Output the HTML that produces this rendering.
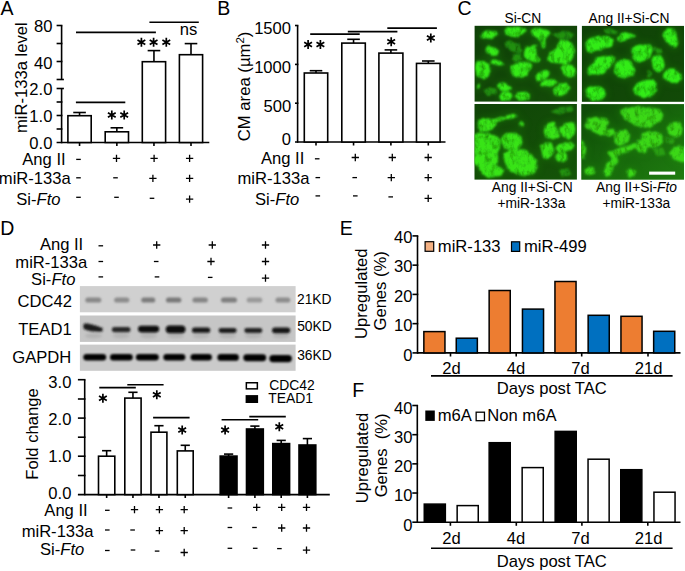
<!DOCTYPE html>
<html><head><meta charset="utf-8"><title>Figure</title>
<style>html,body{margin:0;padding:0;background:#fff;width:685px;height:571px;overflow:hidden}
svg{display:block} text{font-family:"Liberation Sans", sans-serif}</style></head>
<body><svg width="685" height="571" viewBox="0 0 685 571" font-family="'Liberation Sans', sans-serif" fill="#000"><defs><filter id="glow" x="-50%" y="-50%" width="200%" height="200%"><feGaussianBlur stdDeviation="3.5"/></filter><filter id="cell0" x="469.6" y="20.8" width="112.5" height="85.8" filterUnits="userSpaceOnUse">
<feTurbulence type="fractalNoise" baseFrequency="0.12" numOctaves="2" seed="1" result="n1"/>
<feDisplacementMap in="SourceGraphic" in2="n1" scale="3.5" xChannelSelector="R" yChannelSelector="G" result="d"/>
<feGaussianBlur in="d" stdDeviation="1.0" result="b"/>
<feTurbulence type="fractalNoise" baseFrequency="0.2 0.14" numOctaves="3" seed="3" result="n2"/>
<feColorMatrix in="n2" type="matrix" values="1.3 0 0 0 0.24  1.3 0 0 0 0.24  1.3 0 0 0 0.24  0 0 0 0 1" result="n3"/>
<feComposite in="b" in2="n3" operator="arithmetic" k1="1" k2="0" k3="0" k4="0"/>
</filter><clipPath id="cp0"><rect x="474.6" y="25.8" width="102.50" height="75.80"/></clipPath><linearGradient id="bg0" x1="0" y1="0" x2="1" y2="1"><stop offset="0" stop-color="#0f3f08"/><stop offset="1" stop-color="#144c08"/></linearGradient><filter id="cell1" x="576.9" y="20.9" width="112.10000000000002" height="85.9" filterUnits="userSpaceOnUse">
<feTurbulence type="fractalNoise" baseFrequency="0.12" numOctaves="2" seed="8" result="n1"/>
<feDisplacementMap in="SourceGraphic" in2="n1" scale="3.5" xChannelSelector="R" yChannelSelector="G" result="d"/>
<feGaussianBlur in="d" stdDeviation="1.0" result="b"/>
<feTurbulence type="fractalNoise" baseFrequency="0.2 0.14" numOctaves="3" seed="8" result="n2"/>
<feColorMatrix in="n2" type="matrix" values="1.3 0 0 0 0.24  1.3 0 0 0 0.24  1.3 0 0 0 0.24  0 0 0 0 1" result="n3"/>
<feComposite in="b" in2="n3" operator="arithmetic" k1="1" k2="0" k3="0" k4="0"/>
</filter><clipPath id="cp1"><rect x="581.9" y="25.9" width="102.10" height="75.90"/></clipPath><linearGradient id="bg1" x1="0" y1="0" x2="1" y2="1"><stop offset="0" stop-color="#0f4207"/><stop offset="1" stop-color="#124a07"/></linearGradient><filter id="cell2" x="469.5" y="99.0" width="112.39999999999998" height="85.6" filterUnits="userSpaceOnUse">
<feTurbulence type="fractalNoise" baseFrequency="0.12" numOctaves="2" seed="15" result="n1"/>
<feDisplacementMap in="SourceGraphic" in2="n1" scale="3.5" xChannelSelector="R" yChannelSelector="G" result="d"/>
<feGaussianBlur in="d" stdDeviation="1.0" result="b"/>
<feTurbulence type="fractalNoise" baseFrequency="0.2 0.14" numOctaves="3" seed="13" result="n2"/>
<feColorMatrix in="n2" type="matrix" values="1.3 0 0 0 0.24  1.3 0 0 0 0.24  1.3 0 0 0 0.24  0 0 0 0 1" result="n3"/>
<feComposite in="b" in2="n3" operator="arithmetic" k1="1" k2="0" k3="0" k4="0"/>
</filter><clipPath id="cp2"><rect x="474.5" y="104.0" width="102.40" height="75.60"/></clipPath><linearGradient id="bg2" x1="0" y1="0" x2="1" y2="1"><stop offset="0" stop-color="#104407"/><stop offset="1" stop-color="#155408"/></linearGradient><filter id="cell3" x="576.3" y="99.1" width="112.70000000000005" height="85.6" filterUnits="userSpaceOnUse">
<feTurbulence type="fractalNoise" baseFrequency="0.12" numOctaves="2" seed="22" result="n1"/>
<feDisplacementMap in="SourceGraphic" in2="n1" scale="3.5" xChannelSelector="R" yChannelSelector="G" result="d"/>
<feGaussianBlur in="d" stdDeviation="1.0" result="b"/>
<feTurbulence type="fractalNoise" baseFrequency="0.2 0.14" numOctaves="3" seed="18" result="n2"/>
<feColorMatrix in="n2" type="matrix" values="1.3 0 0 0 0.24  1.3 0 0 0 0.24  1.3 0 0 0 0.24  0 0 0 0 1" result="n3"/>
<feComposite in="b" in2="n3" operator="arithmetic" k1="1" k2="0" k3="0" k4="0"/>
</filter><clipPath id="cp3"><rect x="581.3" y="104.1" width="102.70" height="75.60"/></clipPath><linearGradient id="bg3" x1="0" y1="0" x2="1" y2="1"><stop offset="0" stop-color="#0f4807"/><stop offset="0.6" stop-color="#186a0c"/><stop offset="1" stop-color="#1f7c10"/></linearGradient><filter id="bl2" x="-30%" y="-30%" width="160%" height="160%"><feGaussianBlur stdDeviation="0.9"/></filter><filter id="bl4" x="-30%" y="-50%" width="160%" height="200%"><feGaussianBlur stdDeviation="1.15"/></filter><filter id="bl5" x="-30%" y="-80%" width="160%" height="260%"><feGaussianBlur stdDeviation="1.6"/></filter></defs><rect width="685" height="571" fill="#fff"/><text x="0.42" y="14.50" font-size="19.5">A</text>
<text x="217.27" y="14.50" font-size="19.5">B</text>
<text x="457.38" y="14.90" font-size="19.5">C</text>
<text x="0.36" y="235.10" font-size="19.5">D</text>
<text x="339.63" y="235.10" font-size="19.5">E</text>
<text x="352.36" y="396.90" font-size="19.5">F</text>
<line x1="61.60" y1="25.50" x2="61.60" y2="79.50" stroke="#000" stroke-width="1.6"/>
<line x1="56.60" y1="25.50" x2="62.40" y2="25.50" stroke="#000" stroke-width="1.6"/>
<line x1="56.60" y1="43.50" x2="62.40" y2="43.50" stroke="#000" stroke-width="1.6"/>
<line x1="56.60" y1="61.50" x2="62.40" y2="61.50" stroke="#000" stroke-width="1.6"/>
<line x1="56.60" y1="79.50" x2="63.90" y2="79.50" stroke="#000" stroke-width="1.6"/>
<line x1="61.60" y1="88.50" x2="61.60" y2="143.30" stroke="#000" stroke-width="1.6"/>
<line x1="56.60" y1="102.00" x2="62.40" y2="102.00" stroke="#000" stroke-width="1.6"/>
<line x1="56.60" y1="115.50" x2="62.40" y2="115.50" stroke="#000" stroke-width="1.6"/>
<line x1="56.60" y1="129.00" x2="62.40" y2="129.00" stroke="#000" stroke-width="1.6"/>
<line x1="56.60" y1="88.50" x2="63.90" y2="88.50" stroke="#000" stroke-width="1.6"/>
<line x1="56.60" y1="142.50" x2="209.30" y2="142.50" stroke="#000" stroke-width="1.6"/>
<text x="33.95" y="32.03" font-size="16.6">80</text>
<text x="33.95" y="69.13" font-size="16.6">40</text>
<text x="29.31" y="95.03" font-size="16.6">2.0</text>
<text x="29.31" y="121.93" font-size="16.6">1.0</text>
<text x="29.31" y="148.93" font-size="16.6">0.0</text>
<text transform="translate(27.40,133.01) rotate(-90)" font-size="16.6">miR-133a level</text>
<rect x="67.90" y="115.70" width="23.30" height="26.80" fill="#fff" stroke="#000" stroke-width="1.6"/>
<line x1="79.55" y1="115.70" x2="79.55" y2="112.50" stroke="#000" stroke-width="1.6"/>
<line x1="73.25" y1="112.50" x2="85.85" y2="112.50" stroke="#000" stroke-width="1.6"/>
<line x1="79.55" y1="142.50" x2="79.55" y2="146.00" stroke="#000" stroke-width="1.6"/>
<rect x="105.20" y="131.80" width="23.30" height="10.70" fill="#fff" stroke="#000" stroke-width="1.6"/>
<line x1="116.85" y1="131.80" x2="116.85" y2="127.80" stroke="#000" stroke-width="1.6"/>
<line x1="110.55" y1="127.80" x2="123.15" y2="127.80" stroke="#000" stroke-width="1.6"/>
<line x1="116.85" y1="142.50" x2="116.85" y2="146.00" stroke="#000" stroke-width="1.6"/>
<rect x="142.30" y="61.70" width="23.30" height="80.80" fill="#fff" stroke="#000" stroke-width="1.6"/>
<line x1="153.95" y1="61.70" x2="153.95" y2="50.60" stroke="#000" stroke-width="1.6"/>
<line x1="147.65" y1="50.60" x2="160.25" y2="50.60" stroke="#000" stroke-width="1.6"/>
<line x1="153.95" y1="142.50" x2="153.95" y2="146.00" stroke="#000" stroke-width="1.6"/>
<rect x="179.40" y="54.70" width="23.20" height="87.80" fill="#fff" stroke="#000" stroke-width="1.6"/>
<line x1="191.00" y1="54.70" x2="191.00" y2="43.60" stroke="#000" stroke-width="1.6"/>
<line x1="184.70" y1="43.60" x2="197.30" y2="43.60" stroke="#000" stroke-width="1.6"/>
<line x1="191.00" y1="142.50" x2="191.00" y2="146.00" stroke="#000" stroke-width="1.6"/>
<line x1="75.90" y1="102.40" x2="125.30" y2="102.40" stroke="#000" stroke-width="1.6"/>
<line x1="76.00" y1="32.40" x2="155.90" y2="32.40" stroke="#000" stroke-width="1.6"/>
<line x1="149.40" y1="22.30" x2="198.80" y2="22.30" stroke="#000" stroke-width="1.6"/>
<path d="M111.80,119.50L111.80,110.50M107.90,117.25L115.70,112.75M107.90,112.75L115.70,117.25" stroke="#000" stroke-width="1.7" fill="none"/>
<path d="M124.20,119.50L124.20,110.50M120.30,117.25L128.10,112.75M120.30,112.75L128.10,117.25" stroke="#000" stroke-width="1.7" fill="none"/>
<path d="M141.40,46.80L141.40,37.80M137.50,44.55L145.30,40.05M137.50,40.05L145.30,44.55" stroke="#000" stroke-width="1.7" fill="none"/>
<path d="M153.60,46.80L153.60,37.80M149.70,44.55L157.50,40.05M149.70,40.05L157.50,44.55" stroke="#000" stroke-width="1.7" fill="none"/>
<path d="M166.30,46.80L166.30,37.80M162.40,44.55L170.20,40.05M162.40,40.05L170.20,44.55" stroke="#000" stroke-width="1.7" fill="none"/>
<text x="179.69" y="34.50" font-size="16.6">ns</text>
<text x="22.28" y="164.80" font-size="16.6">Ang II</text>
<text x="-1.16" y="184.20" font-size="16.6">miR-133a</text>
<text x="16.31" y="205.00" font-size="16.6">Si-<tspan font-style="italic">Fto</tspan></text>
<path d="M76.20,159.40H80.80" stroke="#000" stroke-width="1.3" fill="none"/>
<path d="M112.85,158.40H120.15M116.50,154.75V162.05" stroke="#000" stroke-width="1.3" fill="none"/>
<path d="M150.45,158.40H157.75M154.10,154.75V162.05" stroke="#000" stroke-width="1.3" fill="none"/>
<path d="M185.95,158.40H193.25M189.60,154.75V162.05" stroke="#000" stroke-width="1.3" fill="none"/>
<path d="M76.20,177.80H80.80" stroke="#000" stroke-width="1.3" fill="none"/>
<path d="M113.20,177.80H117.80" stroke="#000" stroke-width="1.3" fill="none"/>
<path d="M149.25,178.40H156.55M152.90,174.75V182.05" stroke="#000" stroke-width="1.3" fill="none"/>
<path d="M185.95,178.40H193.25M189.60,174.75V182.05" stroke="#000" stroke-width="1.3" fill="none"/>
<path d="M76.20,197.30H80.80" stroke="#000" stroke-width="1.3" fill="none"/>
<path d="M114.20,197.30H118.80" stroke="#000" stroke-width="1.3" fill="none"/>
<path d="M149.70,198.30H154.30" stroke="#000" stroke-width="1.3" fill="none"/>
<path d="M185.95,199.20H193.25M189.60,195.55V202.85" stroke="#000" stroke-width="1.3" fill="none"/>
<line x1="297.60" y1="25.50" x2="297.60" y2="142.80" stroke="#000" stroke-width="1.6"/>
<line x1="295.00" y1="25.50" x2="298.40" y2="25.50" stroke="#000" stroke-width="1.6"/>
<line x1="295.00" y1="64.40" x2="298.40" y2="64.40" stroke="#000" stroke-width="1.6"/>
<line x1="295.00" y1="103.20" x2="298.40" y2="103.20" stroke="#000" stroke-width="1.6"/>
<line x1="295.00" y1="142.00" x2="445.50" y2="142.00" stroke="#000" stroke-width="1.6"/>
<text x="254.15" y="34.03" font-size="16.6">1500</text>
<text x="254.15" y="72.93" font-size="16.6">1000</text>
<text x="263.44" y="111.93" font-size="16.6">500</text>
<text x="281.87" y="145.03" font-size="16.6">0</text>
<text transform="translate(250.3,141.3) rotate(-90)" font-size="16.7">CM area (µm<tspan font-size="11.5" dy="-6.8">2</tspan><tspan dy="6.8">)</tspan></text>
<rect x="304.30" y="73.00" width="23.40" height="69.00" fill="#fff" stroke="#000" stroke-width="1.6"/>
<line x1="316.00" y1="73.00" x2="316.00" y2="70.70" stroke="#000" stroke-width="1.6"/>
<line x1="309.70" y1="70.70" x2="322.30" y2="70.70" stroke="#000" stroke-width="1.6"/>
<line x1="316.00" y1="142.00" x2="316.00" y2="145.50" stroke="#000" stroke-width="1.6"/>
<rect x="341.80" y="43.10" width="23.50" height="98.90" fill="#fff" stroke="#000" stroke-width="1.6"/>
<line x1="353.55" y1="43.10" x2="353.55" y2="39.30" stroke="#000" stroke-width="1.6"/>
<line x1="347.25" y1="39.30" x2="359.85" y2="39.30" stroke="#000" stroke-width="1.6"/>
<line x1="353.55" y1="142.00" x2="353.55" y2="145.50" stroke="#000" stroke-width="1.6"/>
<rect x="378.90" y="53.10" width="24.00" height="88.90" fill="#fff" stroke="#000" stroke-width="1.6"/>
<line x1="390.90" y1="53.10" x2="390.90" y2="49.90" stroke="#000" stroke-width="1.6"/>
<line x1="384.60" y1="49.90" x2="397.20" y2="49.90" stroke="#000" stroke-width="1.6"/>
<line x1="390.90" y1="142.00" x2="390.90" y2="145.50" stroke="#000" stroke-width="1.6"/>
<rect x="416.50" y="63.40" width="23.60" height="78.60" fill="#fff" stroke="#000" stroke-width="1.6"/>
<line x1="428.30" y1="63.40" x2="428.30" y2="61.00" stroke="#000" stroke-width="1.6"/>
<line x1="422.00" y1="61.00" x2="434.60" y2="61.00" stroke="#000" stroke-width="1.6"/>
<line x1="428.30" y1="142.00" x2="428.30" y2="145.50" stroke="#000" stroke-width="1.6"/>
<line x1="310.20" y1="34.10" x2="359.70" y2="34.10" stroke="#000" stroke-width="1.6"/>
<line x1="347.80" y1="31.60" x2="397.40" y2="31.60" stroke="#000" stroke-width="1.6"/>
<line x1="387.30" y1="28.10" x2="436.90" y2="28.10" stroke="#000" stroke-width="1.6"/>
<path d="M308.10,49.00L308.10,40.00M304.20,46.75L312.00,42.25M304.20,42.25L312.00,46.75" stroke="#000" stroke-width="1.7" fill="none"/>
<path d="M320.40,49.00L320.40,40.00M316.50,46.75L324.30,42.25M316.50,42.25L324.30,46.75" stroke="#000" stroke-width="1.7" fill="none"/>
<path d="M391.20,46.30L391.20,37.30M387.30,44.05L395.10,39.55M387.30,39.55L395.10,44.05" stroke="#000" stroke-width="1.7" fill="none"/>
<path d="M430.80,42.60L430.80,33.60M426.90,40.35L434.70,35.85M426.90,35.85L434.70,40.35" stroke="#000" stroke-width="1.7" fill="none"/>
<text x="260.98" y="163.90" font-size="16.6">Ang II</text>
<text x="237.53" y="183.80" font-size="16.6">miR-133a</text>
<text x="255.06" y="204.50" font-size="16.6">Si-<tspan font-style="italic">Fto</tspan></text>
<path d="M314.90,158.80H319.50" stroke="#000" stroke-width="1.3" fill="none"/>
<path d="M351.65,157.50H358.95M355.30,153.85V161.15" stroke="#000" stroke-width="1.3" fill="none"/>
<path d="M388.65,157.50H395.95M392.30,153.85V161.15" stroke="#000" stroke-width="1.3" fill="none"/>
<path d="M424.55,157.50H431.85M428.20,153.85V161.15" stroke="#000" stroke-width="1.3" fill="none"/>
<path d="M315.50,177.60H320.10" stroke="#000" stroke-width="1.3" fill="none"/>
<path d="M352.40,177.60H357.00" stroke="#000" stroke-width="1.3" fill="none"/>
<path d="M387.65,177.60H394.95M391.30,173.95V181.25" stroke="#000" stroke-width="1.3" fill="none"/>
<path d="M424.55,177.60H431.85M428.20,173.95V181.25" stroke="#000" stroke-width="1.3" fill="none"/>
<path d="M315.50,195.90H320.10" stroke="#000" stroke-width="1.3" fill="none"/>
<path d="M353.00,195.90H357.60" stroke="#000" stroke-width="1.3" fill="none"/>
<path d="M388.40,196.90H393.00" stroke="#000" stroke-width="1.3" fill="none"/>
<path d="M424.55,198.30H431.85M428.20,194.65V201.95" stroke="#000" stroke-width="1.3" fill="none"/>
<rect x="474.60" y="25.80" width="102.50" height="75.80" fill="url(#bg0)"/>
<g clip-path="url(#cp0)"><g filter="url(#glow)" opacity="0.25"><polygon points="480.07,35.63 483.11,32.59 490.70,30.77 496.77,31.38 498.29,34.11 493.74,37.15 487.66,38.66 482.35,38.36" fill="#20a010" stroke="#20a010" stroke-width="4" stroke-linejoin="round"/><polygon points="504.36,31.07 506.64,27.28 518.03,26.82 524.10,28.80 527.13,31.83 519.54,34.11 518.03,37.15 510.44,36.39 505.88,34.87" fill="#20a010" stroke="#20a010" stroke-width="4" stroke-linejoin="round"/><polygon points="530.93,31.07 534.73,28.04 542.32,28.34 548.39,29.55 550.67,34.11 546.87,37.15 545.35,40.18 545.35,47.77 542.32,48.53 540.80,41.70 536.24,37.90 532.45,35.63" fill="#20a010" stroke="#20a010" stroke-width="4" stroke-linejoin="round"/><polygon points="485.39,49.29 488.42,46.25 495.25,47.77 499.81,51.57 498.29,55.36 492.22,56.12 486.90,53.84" fill="#20a010" stroke="#20a010" stroke-width="4" stroke-linejoin="round"/><polygon points="522.58,55.36 525.62,47.77 534.73,44.74 538.52,43.98 535.48,47.77 537.76,56.88 540.80,59.16 539.28,62.95 531.69,61.44 526.38,59.16" fill="#20a010" stroke="#20a010" stroke-width="4" stroke-linejoin="round"/><polygon points="546.87,58.40 549.91,52.33 555.98,47.77 560.53,39.42 566.61,40.18 572.68,44.74 574.96,50.81 572.68,56.88 571.16,62.19 565.09,63.71 555.98,62.95 549.91,62.19" fill="#20a010" stroke="#20a010" stroke-width="4" stroke-linejoin="round"/><polygon points="475.52,62.95 478.55,59.92 484.63,60.68 489.18,64.47 490.70,70.54 488.42,76.62 483.11,78.13 477.04,76.62 475.52,70.54" fill="#20a010" stroke="#20a010" stroke-width="4" stroke-linejoin="round"/><polygon points="490.70,60.68 493.74,59.16 501.33,61.44 504.36,64.47 501.33,65.99 495.25,64.78 491.46,62.95" fill="#20a010" stroke="#20a010" stroke-width="4" stroke-linejoin="round"/><polygon points="510.44,65.99 514.99,62.95 524.10,61.44 530.17,62.95 532.45,65.23 528.65,70.54 527.13,76.62 519.54,78.13 513.47,76.62 511.19,72.06" fill="#20a010" stroke="#20a010" stroke-width="4" stroke-linejoin="round"/><polygon points="535.48,76.62 537.76,72.06 545.35,69.79 549.91,72.06 548.39,76.62 543.83,79.65 537.76,81.17" fill="#20a010" stroke="#20a010" stroke-width="4" stroke-linejoin="round"/><polygon points="560.53,67.51 565.09,63.71 572.68,65.23 575.72,70.54 574.20,76.62 568.12,78.13 562.81,75.10" fill="#20a010" stroke="#20a010" stroke-width="4" stroke-linejoin="round"/><polygon points="540.80,82.69 545.35,79.65 554.46,78.89 558.26,81.93 552.94,85.73 545.35,87.24 541.56,85.73" fill="#20a010" stroke="#20a010" stroke-width="4" stroke-linejoin="round"/><polygon points="552.94,88.76 559.02,84.21 566.61,82.69 569.64,87.24 566.61,93.32 560.53,96.35 554.46,94.83" fill="#20a010" stroke="#20a010" stroke-width="4" stroke-linejoin="round"/><polygon points="496.77,85.73 499.81,82.69 506.64,83.45 511.19,87.24 508.92,91.04 501.33,91.04" fill="#20a010" stroke="#20a010" stroke-width="4" stroke-linejoin="round"/><polygon points="499.05,96.35 502.84,92.56 510.44,92.56 513.47,96.35 510.44,100.15 501.33,100.91" fill="#20a010" stroke="#20a010" stroke-width="4" stroke-linejoin="round"/><polygon points="514.99,96.35 518.03,92.56 525.62,91.80 530.17,94.83 527.89,99.39 519.54,100.91" fill="#20a010" stroke="#20a010" stroke-width="4" stroke-linejoin="round"/><polygon points="476.28,85.73 478.55,84.51 480.38,86.48 478.55,88.76 476.28,88.00" fill="#20a010" stroke="#20a010" stroke-width="4" stroke-linejoin="round"/></g><g filter="url(#cell0)"><polygon points="504.36,41.70 510.44,40.18 519.54,44.74 522.58,50.81 518.03,53.84 510.44,50.81 505.88,46.25" fill="#34ea16" opacity="0.45"/><polygon points="483.11,90.28 489.18,87.24 496.77,88.76 495.25,94.83 487.66,96.35" fill="#34ea16" opacity="0.45"/><polygon points="552.94,34.11 565.09,31.07 574.20,34.11 571.16,38.66 559.02,38.66" fill="#34ea16" opacity="0.45"/><polygon points="511.95,53.84 519.54,53.84 522.58,59.92 516.51,61.44 511.95,58.40" fill="#34ea16" opacity="0.45"/><polygon points="480.07,35.63 483.11,32.59 490.70,30.77 496.77,31.38 498.29,34.11 493.74,37.15 487.66,38.66 482.35,38.36" fill="#34ea16"/><polygon points="504.36,31.07 506.64,27.28 518.03,26.82 524.10,28.80 527.13,31.83 519.54,34.11 518.03,37.15 510.44,36.39 505.88,34.87" fill="#34ea16"/><polygon points="530.93,31.07 534.73,28.04 542.32,28.34 548.39,29.55 550.67,34.11 546.87,37.15 545.35,40.18 545.35,47.77 542.32,48.53 540.80,41.70 536.24,37.90 532.45,35.63" fill="#34ea16"/><polygon points="485.39,49.29 488.42,46.25 495.25,47.77 499.81,51.57 498.29,55.36 492.22,56.12 486.90,53.84" fill="#34ea16"/><polygon points="522.58,55.36 525.62,47.77 534.73,44.74 538.52,43.98 535.48,47.77 537.76,56.88 540.80,59.16 539.28,62.95 531.69,61.44 526.38,59.16" fill="#34ea16"/><polygon points="546.87,58.40 549.91,52.33 555.98,47.77 560.53,39.42 566.61,40.18 572.68,44.74 574.96,50.81 572.68,56.88 571.16,62.19 565.09,63.71 555.98,62.95 549.91,62.19" fill="#34ea16"/><polygon points="475.52,62.95 478.55,59.92 484.63,60.68 489.18,64.47 490.70,70.54 488.42,76.62 483.11,78.13 477.04,76.62 475.52,70.54" fill="#34ea16"/><polygon points="490.70,60.68 493.74,59.16 501.33,61.44 504.36,64.47 501.33,65.99 495.25,64.78 491.46,62.95" fill="#34ea16"/><polygon points="510.44,65.99 514.99,62.95 524.10,61.44 530.17,62.95 532.45,65.23 528.65,70.54 527.13,76.62 519.54,78.13 513.47,76.62 511.19,72.06" fill="#34ea16"/><polygon points="535.48,76.62 537.76,72.06 545.35,69.79 549.91,72.06 548.39,76.62 543.83,79.65 537.76,81.17" fill="#34ea16"/><polygon points="560.53,67.51 565.09,63.71 572.68,65.23 575.72,70.54 574.20,76.62 568.12,78.13 562.81,75.10" fill="#34ea16"/><polygon points="540.80,82.69 545.35,79.65 554.46,78.89 558.26,81.93 552.94,85.73 545.35,87.24 541.56,85.73" fill="#34ea16"/><polygon points="552.94,88.76 559.02,84.21 566.61,82.69 569.64,87.24 566.61,93.32 560.53,96.35 554.46,94.83" fill="#34ea16"/><polygon points="496.77,85.73 499.81,82.69 506.64,83.45 511.19,87.24 508.92,91.04 501.33,91.04" fill="#34ea16"/><polygon points="499.05,96.35 502.84,92.56 510.44,92.56 513.47,96.35 510.44,100.15 501.33,100.91" fill="#34ea16"/><polygon points="514.99,96.35 518.03,92.56 525.62,91.80 530.17,94.83 527.89,99.39 519.54,100.91" fill="#34ea16"/><polygon points="476.28,85.73 478.55,84.51 480.38,86.48 478.55,88.76 476.28,88.00" fill="#34ea16"/></g></g>
<rect x="581.90" y="25.90" width="102.10" height="75.90" fill="url(#bg1)"/>
<g clip-path="url(#cp1)"><g filter="url(#glow)" opacity="0.25"><polygon points="585.36,43.39 589.20,38.03 598.39,35.73 609.12,36.50 613.72,39.56 612.19,44.93 606.06,47.99 596.86,51.06 592.26,53.36 586.90,50.29" fill="#20a010" stroke="#20a010" stroke-width="4" stroke-linejoin="round"/><polygon points="616.79,38.80 619.85,33.43 625.98,31.90 632.12,34.20 635.18,37.26 629.05,39.56 624.45,41.09 618.32,41.09" fill="#20a010" stroke="#20a010" stroke-width="4" stroke-linejoin="round"/><polygon points="663.54,34.20 667.37,28.07 673.50,28.83 677.33,34.20 678.10,41.86 675.03,47.99 670.44,46.46 665.84,41.86" fill="#20a010" stroke="#20a010" stroke-width="4" stroke-linejoin="round"/><polygon points="631.35,49.52 635.18,45.69 644.38,43.39 652.04,44.93 653.57,51.06 650.51,57.19 644.38,60.25 638.25,62.55 632.88,58.72" fill="#20a010" stroke="#20a010" stroke-width="4" stroke-linejoin="round"/><polygon points="586.90,69.45 592.26,63.32 596.86,57.19 606.06,55.66 615.25,57.19 613.72,63.32 607.59,69.45 602.99,74.05 593.80,75.58 588.43,74.05" fill="#20a010" stroke="#20a010" stroke-width="4" stroke-linejoin="round"/><polygon points="613.72,67.92 616.79,61.79 624.45,58.72 630.58,61.79 635.18,69.45 633.65,75.58 625.98,78.65 618.32,77.12 614.49,72.52" fill="#20a010" stroke="#20a010" stroke-width="4" stroke-linejoin="round"/><polygon points="652.04,61.79 655.11,55.66 661.24,54.89 664.30,61.79 662.77,69.45 658.17,72.52 653.57,69.45" fill="#20a010" stroke="#20a010" stroke-width="4" stroke-linejoin="round"/><polygon points="662.77,74.05 667.37,69.45 675.03,69.45 681.16,74.05 681.93,80.18 676.57,83.25 668.90,81.71 664.30,78.65" fill="#20a010" stroke="#20a010" stroke-width="4" stroke-linejoin="round"/><polygon points="632.88,89.38 636.71,83.25 644.38,80.18 653.57,79.41 656.64,83.25 655.87,90.91 650.51,97.04 641.31,97.04 635.18,93.98" fill="#20a010" stroke="#20a010" stroke-width="4" stroke-linejoin="round"/><polygon points="584.60,89.38 589.20,85.55 598.39,86.31 604.52,89.38 606.06,95.51 601.46,100.11 592.26,100.87 586.13,97.04" fill="#20a010" stroke="#20a010" stroke-width="4" stroke-linejoin="round"/></g><g filter="url(#cell1)"><polygon points="602.99,29.60 610.66,28.07 618.32,31.13 615.25,34.20 606.06,33.43" fill="#30ec14" opacity="0.45"/><polygon points="653.57,46.46 659.71,47.99 662.77,52.59 656.64,54.12" fill="#30ec14" opacity="0.45"/><polygon points="647.44,70.98 652.04,72.52 652.04,77.12 647.44,77.88" fill="#30ec14" opacity="0.45"/><polygon points="585.36,43.39 589.20,38.03 598.39,35.73 609.12,36.50 613.72,39.56 612.19,44.93 606.06,47.99 596.86,51.06 592.26,53.36 586.90,50.29" fill="#30ec14"/><polygon points="616.79,38.80 619.85,33.43 625.98,31.90 632.12,34.20 635.18,37.26 629.05,39.56 624.45,41.09 618.32,41.09" fill="#30ec14"/><polygon points="663.54,34.20 667.37,28.07 673.50,28.83 677.33,34.20 678.10,41.86 675.03,47.99 670.44,46.46 665.84,41.86" fill="#30ec14"/><polygon points="631.35,49.52 635.18,45.69 644.38,43.39 652.04,44.93 653.57,51.06 650.51,57.19 644.38,60.25 638.25,62.55 632.88,58.72" fill="#30ec14"/><polygon points="586.90,69.45 592.26,63.32 596.86,57.19 606.06,55.66 615.25,57.19 613.72,63.32 607.59,69.45 602.99,74.05 593.80,75.58 588.43,74.05" fill="#30ec14"/><polygon points="613.72,67.92 616.79,61.79 624.45,58.72 630.58,61.79 635.18,69.45 633.65,75.58 625.98,78.65 618.32,77.12 614.49,72.52" fill="#30ec14"/><polygon points="652.04,61.79 655.11,55.66 661.24,54.89 664.30,61.79 662.77,69.45 658.17,72.52 653.57,69.45" fill="#30ec14"/><polygon points="662.77,74.05 667.37,69.45 675.03,69.45 681.16,74.05 681.93,80.18 676.57,83.25 668.90,81.71 664.30,78.65" fill="#30ec14"/><polygon points="632.88,89.38 636.71,83.25 644.38,80.18 653.57,79.41 656.64,83.25 655.87,90.91 650.51,97.04 641.31,97.04 635.18,93.98" fill="#30ec14"/><polygon points="584.60,89.38 589.20,85.55 598.39,86.31 604.52,89.38 606.06,95.51 601.46,100.11 592.26,100.87 586.13,97.04" fill="#30ec14"/></g></g>
<rect x="474.50" y="104.00" width="102.40" height="75.60" fill="url(#bg2)"/>
<g clip-path="url(#cp2)"><g filter="url(#glow)" opacity="0.25"><polygon points="477.04,124.25 480.07,119.70 487.66,118.18 493.74,119.70 496.77,124.25 492.22,129.57 486.15,131.84 480.07,131.09" fill="#20a010" stroke="#20a010" stroke-width="4" stroke-linejoin="round"/><polygon points="490.70,119.70 498.29,117.42 507.40,115.15 513.47,113.63 518.03,115.90 513.47,118.18 504.36,119.70 496.77,121.98" fill="#20a010" stroke="#20a010" stroke-width="4" stroke-linejoin="round"/><polygon points="518.79,124.25 521.06,121.98 524.10,123.49 523.34,126.53 519.54,126.53" fill="#20a010" stroke="#20a010" stroke-width="4" stroke-linejoin="round"/><polygon points="474.00,134.88 478.55,132.60 487.66,134.12 496.77,135.64 500.57,140.95 499.81,148.54 497.53,153.10 498.29,160.69 496.77,165.24 489.18,166.76 480.07,166.76 474.00,163.73" fill="#20a010" stroke="#20a010" stroke-width="4" stroke-linejoin="round"/><polygon points="500.57,137.92 505.88,133.36 514.99,132.60 521.06,136.40 522.58,142.47 518.03,148.54 510.44,150.06 504.36,148.54" fill="#20a010" stroke="#20a010" stroke-width="4" stroke-linejoin="round"/><polygon points="504.36,153.10 510.44,150.06 519.54,148.54 525.62,150.06 531.69,154.62 536.24,160.69 537.76,168.28 533.21,174.35 522.58,175.87 513.47,173.59 507.40,168.28 504.36,162.21" fill="#20a010" stroke="#20a010" stroke-width="4" stroke-linejoin="round"/><polygon points="478.55,166.76 486.15,163.73 496.77,165.24 504.36,169.80 501.33,175.87 490.70,177.39 481.59,174.35" fill="#20a010" stroke="#20a010" stroke-width="4" stroke-linejoin="round"/><polygon points="543.83,128.81 548.39,122.74 554.46,122.74 558.26,128.81 559.02,136.40 552.94,139.44 546.87,137.92" fill="#20a010" stroke="#20a010" stroke-width="4" stroke-linejoin="round"/><polygon points="560.53,127.29 565.09,122.74 572.68,121.98 575.72,125.77 574.96,134.88 569.64,138.68 563.57,137.16 560.53,133.36" fill="#20a010" stroke="#20a010" stroke-width="4" stroke-linejoin="round"/><polygon points="540.80,147.03 545.35,142.47 551.43,142.47 553.70,148.54 552.18,156.13 546.87,159.17 542.32,156.13" fill="#20a010" stroke="#20a010" stroke-width="4" stroke-linejoin="round"/><polygon points="555.22,148.54 560.53,143.99 571.16,142.47 574.96,147.03 571.16,150.06 565.09,151.58 559.02,153.10" fill="#20a010" stroke="#20a010" stroke-width="4" stroke-linejoin="round"/><polygon points="555.98,154.62 560.53,151.58 566.61,153.10 567.37,159.17 562.05,162.21 556.74,160.69" fill="#20a010" stroke="#20a010" stroke-width="4" stroke-linejoin="round"/></g><g filter="url(#cell2)"><polygon points="549.91,112.11 559.02,107.55 571.16,106.04 574.20,110.59 562.05,115.15" fill="#38e418" opacity="0.45"/><polygon points="559.02,169.80 568.12,168.28 571.16,174.35 562.05,177.39" fill="#38e418" opacity="0.45"/><polygon points="477.04,124.25 480.07,119.70 487.66,118.18 493.74,119.70 496.77,124.25 492.22,129.57 486.15,131.84 480.07,131.09" fill="#38e418"/><polygon points="490.70,119.70 498.29,117.42 507.40,115.15 513.47,113.63 518.03,115.90 513.47,118.18 504.36,119.70 496.77,121.98" fill="#38e418"/><polygon points="518.79,124.25 521.06,121.98 524.10,123.49 523.34,126.53 519.54,126.53" fill="#38e418"/><polygon points="474.00,134.88 478.55,132.60 487.66,134.12 496.77,135.64 500.57,140.95 499.81,148.54 497.53,153.10 498.29,160.69 496.77,165.24 489.18,166.76 480.07,166.76 474.00,163.73" fill="#38e418"/><polygon points="500.57,137.92 505.88,133.36 514.99,132.60 521.06,136.40 522.58,142.47 518.03,148.54 510.44,150.06 504.36,148.54" fill="#38e418"/><polygon points="504.36,153.10 510.44,150.06 519.54,148.54 525.62,150.06 531.69,154.62 536.24,160.69 537.76,168.28 533.21,174.35 522.58,175.87 513.47,173.59 507.40,168.28 504.36,162.21" fill="#38e418"/><polygon points="478.55,166.76 486.15,163.73 496.77,165.24 504.36,169.80 501.33,175.87 490.70,177.39 481.59,174.35" fill="#38e418"/><polygon points="543.83,128.81 548.39,122.74 554.46,122.74 558.26,128.81 559.02,136.40 552.94,139.44 546.87,137.92" fill="#38e418"/><polygon points="560.53,127.29 565.09,122.74 572.68,121.98 575.72,125.77 574.96,134.88 569.64,138.68 563.57,137.16 560.53,133.36" fill="#38e418"/><polygon points="540.80,147.03 545.35,142.47 551.43,142.47 553.70,148.54 552.18,156.13 546.87,159.17 542.32,156.13" fill="#38e418"/><polygon points="555.22,148.54 560.53,143.99 571.16,142.47 574.96,147.03 571.16,150.06 565.09,151.58 559.02,153.10" fill="#38e418"/><polygon points="555.98,154.62 560.53,151.58 566.61,153.10 567.37,159.17 562.05,162.21 556.74,160.69" fill="#38e418"/></g></g>
<rect x="581.30" y="104.10" width="102.70" height="75.60" fill="url(#bg3)"/>
<g clip-path="url(#cp3)"><g filter="url(#glow)" opacity="0.25"><polygon points="584.60,124.46 588.43,119.09 595.33,116.80 604.52,118.33 609.12,122.93 606.06,127.52 613.72,129.06 615.25,133.66 609.12,136.72 599.93,135.19 593.80,132.12 586.90,129.06" fill="#20a010" stroke="#20a010" stroke-width="4" stroke-linejoin="round"/><polygon points="619.85,110.66 625.98,107.60 638.25,106.83 650.51,107.60 659.71,109.13 663.54,115.26 659.71,121.39 653.57,124.46 648.98,127.52 641.31,127.52 633.65,124.46 625.98,119.86 621.39,115.26" fill="#20a010" stroke="#20a010" stroke-width="4" stroke-linejoin="round"/><polygon points="615.25,133.66 619.85,130.59 625.98,129.82 630.58,133.66 629.05,139.79 624.45,144.39 618.32,145.92 614.49,141.32" fill="#20a010" stroke="#20a010" stroke-width="4" stroke-linejoin="round"/><polygon points="607.59,153.58 616.79,148.98 625.98,145.92 635.18,142.85 638.25,145.92 630.58,150.52 619.85,155.12 612.19,158.18" fill="#20a010" stroke="#20a010" stroke-width="4" stroke-linejoin="round"/><polygon points="641.31,133.66 648.98,130.59 658.17,132.12 662.77,136.72 661.24,144.39 655.11,147.45 647.44,147.45 641.31,142.85" fill="#20a010" stroke="#20a010" stroke-width="4" stroke-linejoin="round"/><polygon points="666.60,127.52 671.97,122.93 679.63,122.93 682.70,129.06 681.16,135.19 675.03,136.72 668.90,133.66" fill="#20a010" stroke="#20a010" stroke-width="4" stroke-linejoin="round"/><polygon points="668.90,152.05 673.50,147.45 679.63,145.92 685.76,147.45 685.76,162.78 679.63,161.25 673.50,159.71" fill="#20a010" stroke="#20a010" stroke-width="4" stroke-linejoin="round"/><polygon points="602.99,173.51 606.06,164.31 610.66,158.18 616.79,156.65 618.32,161.25 613.72,167.38 610.66,175.04 606.06,178.11" fill="#20a010" stroke="#20a010" stroke-width="4" stroke-linejoin="round"/><polygon points="583.07,168.91 587.66,166.61 593.80,167.38 595.33,171.98 590.73,175.04 584.60,174.28" fill="#20a010" stroke="#20a010" stroke-width="4" stroke-linejoin="round"/><polygon points="579.23,139.79 583.07,141.32 586.13,148.98 584.60,158.18 579.23,158.18" fill="#20a010" stroke="#20a010" stroke-width="4" stroke-linejoin="round"/><polygon points="625.98,171.98 630.58,168.91 635.18,171.21 634.41,176.57 629.05,178.11" fill="#20a010" stroke="#20a010" stroke-width="4" stroke-linejoin="round"/><polygon points="638.25,139.79 644.38,141.32 647.44,148.98 644.38,153.58 638.25,152.05 636.71,145.92" fill="#20a010" stroke="#20a010" stroke-width="4" stroke-linejoin="round"/></g><g filter="url(#cell3)"><polygon points="652.04,148.98 662.77,147.45 665.84,153.58 656.64,156.65" fill="#3ad818" opacity="0.45"/><polygon points="665.84,136.72 675.03,138.25 673.50,144.39 665.84,142.85" fill="#3ad818" opacity="0.45"/><polygon points="584.60,124.46 588.43,119.09 595.33,116.80 604.52,118.33 609.12,122.93 606.06,127.52 613.72,129.06 615.25,133.66 609.12,136.72 599.93,135.19 593.80,132.12 586.90,129.06" fill="#3ad818"/><polygon points="619.85,110.66 625.98,107.60 638.25,106.83 650.51,107.60 659.71,109.13 663.54,115.26 659.71,121.39 653.57,124.46 648.98,127.52 641.31,127.52 633.65,124.46 625.98,119.86 621.39,115.26" fill="#3ad818"/><polygon points="615.25,133.66 619.85,130.59 625.98,129.82 630.58,133.66 629.05,139.79 624.45,144.39 618.32,145.92 614.49,141.32" fill="#3ad818"/><polygon points="607.59,153.58 616.79,148.98 625.98,145.92 635.18,142.85 638.25,145.92 630.58,150.52 619.85,155.12 612.19,158.18" fill="#3ad818"/><polygon points="641.31,133.66 648.98,130.59 658.17,132.12 662.77,136.72 661.24,144.39 655.11,147.45 647.44,147.45 641.31,142.85" fill="#3ad818"/><polygon points="666.60,127.52 671.97,122.93 679.63,122.93 682.70,129.06 681.16,135.19 675.03,136.72 668.90,133.66" fill="#3ad818"/><polygon points="668.90,152.05 673.50,147.45 679.63,145.92 685.76,147.45 685.76,162.78 679.63,161.25 673.50,159.71" fill="#3ad818"/><polygon points="602.99,173.51 606.06,164.31 610.66,158.18 616.79,156.65 618.32,161.25 613.72,167.38 610.66,175.04 606.06,178.11" fill="#3ad818"/><polygon points="583.07,168.91 587.66,166.61 593.80,167.38 595.33,171.98 590.73,175.04 584.60,174.28" fill="#3ad818"/><polygon points="579.23,139.79 583.07,141.32 586.13,148.98 584.60,158.18 579.23,158.18" fill="#3ad818"/><polygon points="625.98,171.98 630.58,168.91 635.18,171.21 634.41,176.57 629.05,178.11" fill="#3ad818"/><polygon points="638.25,139.79 644.38,141.32 647.44,148.98 644.38,153.58 638.25,152.05 636.71,145.92" fill="#3ad818"/></g></g>
<rect x="649.10" y="171.60" width="26.10" height="3.10" fill="#fff"/>
<text x="504.50" y="23.30" font-size="13.8">Si-CN</text>
<text x="588.52" y="23.30" font-size="13.8">Ang II+Si-CN</text>
<text x="491.82" y="191.80" font-size="13.8">Ang II+Si-CN</text>
<text x="497.51" y="207.80" font-size="13.8">+miR-133a</text>
<text x="596.09" y="191.80" font-size="13.8">Ang II+Si-<tspan font-style="italic">Fto</tspan></text>
<text x="602.41" y="207.80" font-size="13.8">+miR-133a</text>
<text x="39.88" y="249.70" font-size="16.6">Ang II</text>
<text x="15.33" y="268.40" font-size="16.6">miR-133a</text>
<text x="31.11" y="285.30" font-size="16.6">Si-<tspan font-style="italic">Fto</tspan></text>
<path d="M98.50,245.80H103.10" stroke="#000" stroke-width="1.3" fill="none"/>
<path d="M153.05,245.00H160.35M156.70,241.35V248.65" stroke="#000" stroke-width="1.3" fill="none"/>
<path d="M208.65,245.00H215.95M212.30,241.35V248.65" stroke="#000" stroke-width="1.3" fill="none"/>
<path d="M261.85,245.00H269.15M265.50,241.35V248.65" stroke="#000" stroke-width="1.3" fill="none"/>
<path d="M98.50,261.50H103.10" stroke="#000" stroke-width="1.3" fill="none"/>
<path d="M153.90,261.50H158.50" stroke="#000" stroke-width="1.3" fill="none"/>
<path d="M207.35,261.50H214.65M211.00,257.85V265.15" stroke="#000" stroke-width="1.3" fill="none"/>
<path d="M261.85,261.50H269.15M265.50,257.85V265.15" stroke="#000" stroke-width="1.3" fill="none"/>
<path d="M98.50,276.90H103.10" stroke="#000" stroke-width="1.3" fill="none"/>
<path d="M154.70,276.90H159.30" stroke="#000" stroke-width="1.3" fill="none"/>
<path d="M207.90,277.40H212.50" stroke="#000" stroke-width="1.3" fill="none"/>
<path d="M261.85,278.20H269.15M265.50,274.55V281.85" stroke="#000" stroke-width="1.3" fill="none"/>
<rect x="79.90" y="286.10" width="215.70" height="26.20" fill="#d0d0d0"/>
<rect x="79.90" y="315.50" width="215.70" height="26.40" fill="#c6c6c6"/>
<rect x="79.90" y="344.60" width="215.70" height="26.20" fill="#cacaca"/>
<g filter="url(#bl2)"><rect x="85.30" y="297.4" width="16.00" height="5.2" rx="2.6" fill="#888888"/><rect x="114.15" y="297.4" width="15.20" height="5.2" rx="2.6" fill="#8c8c8c"/><rect x="141.25" y="297.4" width="14.00" height="5.2" rx="2.6" fill="#7c7c7c"/><rect x="165.95" y="297.4" width="15.40" height="5.2" rx="2.6" fill="#787878"/><rect x="192.45" y="297.4" width="15.40" height="5.2" rx="2.6" fill="#858585"/><rect x="221.00" y="297.4" width="16.00" height="5.2" rx="2.6" fill="#7e7e7e"/><rect x="246.70" y="297.4" width="15.60" height="5.2" rx="2.6" fill="#9a9a9a"/><rect x="275.50" y="297.4" width="14.80" height="5.2" rx="2.6" fill="#8c8c8c"/><rect x="83.30" y="354.0" width="22.90" height="6.6" rx="3.30" fill="#060606"/><rect x="110.00" y="354.0" width="22.80" height="6.6" rx="3.30" fill="#060606"/><rect x="135.90" y="354.0" width="22.90" height="6.6" rx="3.30" fill="#060606"/><rect x="163.35" y="354.0" width="22.00" height="6.4" rx="3.20" fill="#060606"/><rect x="190.50" y="354.0" width="21.40" height="6.6" rx="3.30" fill="#060606"/><rect x="217.40" y="354.0" width="21.50" height="6.8" rx="3.40" fill="#060606"/><rect x="243.30" y="354.3" width="22.90" height="6.9" rx="3.45" fill="#060606"/><rect x="269.30" y="355.0" width="22.60" height="7.2" rx="3.60" fill="#060606"/></g>
<g filter="url(#bl5)"><ellipse cx="93.5" cy="335.8" rx="8.5" ry="2.4" fill="#b2b2b2"/><ellipse cx="121.2" cy="335.8" rx="8.5" ry="2.4" fill="#b2b2b2"/><ellipse cx="148.6" cy="335.8" rx="8.5" ry="2.4" fill="#b2b2b2"/><ellipse cx="175.6" cy="335.8" rx="8.5" ry="2.4" fill="#b2b2b2"/><ellipse cx="201.1" cy="335.8" rx="8.5" ry="2.4" fill="#b2b2b2"/><ellipse cx="227.6" cy="335.8" rx="8.5" ry="2.4" fill="#b2b2b2"/><ellipse cx="253.3" cy="335.8" rx="8.5" ry="2.4" fill="#b2b2b2"/><ellipse cx="281.1" cy="335.8" rx="8.5" ry="2.4" fill="#b2b2b2"/></g>
<g filter="url(#bl4)"><path d="M84.5,323.6 C88,322.6 95,325.4 102.6,327.8 L102.6,331.6 C95,331.8 88,331.2 84.2,329.2 C82.8,327.5 83,324.6 84.5,323.6 Z" fill="#1e1e1e"/><rect x="111.90" y="326.90" width="18.60" height="5.40" rx="2.70" fill="#262626"/><rect x="138.00" y="325.80" width="21.20" height="6.60" rx="3.30" fill="#0a0a0a"/><rect x="165.70" y="325.40" width="19.80" height="7.80" rx="3.90" fill="#080808"/><rect x="192.00" y="327.60" width="18.20" height="5.20" rx="2.60" fill="#151515"/><rect x="218.60" y="328.10" width="18.00" height="4.80" rx="2.40" fill="#1c1c1c"/><rect x="244.30" y="328.10" width="18.00" height="4.80" rx="2.40" fill="#222222"/><rect x="272.00" y="327.40" width="18.20" height="5.80" rx="2.90" fill="#151515"/></g>
<text x="296.97" y="304.10" font-size="13.8">21KD</text>
<text x="297.15" y="331.10" font-size="13.8">50KD</text>
<text x="297.15" y="359.70" font-size="13.8">36KD</text>
<text x="17.48" y="307.00" font-size="16.6">CDC42</text>
<text x="18.13" y="334.60" font-size="16.6">TEAD1</text>
<text x="12.29" y="362.80" font-size="16.6">GAPDH</text>
<line x1="84.70" y1="379.70" x2="84.70" y2="495.30" stroke="#000" stroke-width="1.6"/>
<line x1="77.90" y1="379.70" x2="85.50" y2="379.70" stroke="#000" stroke-width="1.6"/>
<line x1="77.90" y1="399.00" x2="85.50" y2="399.00" stroke="#000" stroke-width="1.6"/>
<line x1="77.90" y1="418.10" x2="85.50" y2="418.10" stroke="#000" stroke-width="1.6"/>
<line x1="77.90" y1="437.20" x2="85.50" y2="437.20" stroke="#000" stroke-width="1.6"/>
<line x1="77.90" y1="456.20" x2="85.50" y2="456.20" stroke="#000" stroke-width="1.6"/>
<line x1="77.90" y1="475.50" x2="85.50" y2="475.50" stroke="#000" stroke-width="1.6"/>
<line x1="77.90" y1="494.60" x2="329.80" y2="494.60" stroke="#000" stroke-width="1.6"/>
<text x="48.31" y="388.03" font-size="16.6">3.0</text>
<text x="48.31" y="424.83" font-size="16.6">2.0</text>
<text x="48.31" y="462.43" font-size="16.6">1.0</text>
<text x="48.31" y="499.43" font-size="16.6">0.0</text>
<text transform="translate(37.60,479.68) rotate(-90)" font-size="16.6">Fold change</text>
<rect x="98.50" y="456.20" width="16.30" height="38.40" fill="#fff" stroke="#000" stroke-width="1.6"/>
<line x1="106.65" y1="456.20" x2="106.65" y2="450.70" stroke="#000" stroke-width="1.6"/>
<line x1="102.05" y1="450.70" x2="111.25" y2="450.70" stroke="#000" stroke-width="1.6"/>
<line x1="106.65" y1="494.60" x2="106.65" y2="498.00" stroke="#000" stroke-width="1.6"/>
<rect x="124.80" y="398.10" width="16.30" height="96.50" fill="#fff" stroke="#000" stroke-width="1.6"/>
<line x1="132.95" y1="398.10" x2="132.95" y2="392.30" stroke="#000" stroke-width="1.6"/>
<line x1="128.35" y1="392.30" x2="137.55" y2="392.30" stroke="#000" stroke-width="1.6"/>
<line x1="132.95" y1="494.60" x2="132.95" y2="498.00" stroke="#000" stroke-width="1.6"/>
<rect x="151.00" y="432.20" width="15.90" height="62.40" fill="#fff" stroke="#000" stroke-width="1.6"/>
<line x1="158.95" y1="432.20" x2="158.95" y2="425.70" stroke="#000" stroke-width="1.6"/>
<line x1="154.35" y1="425.70" x2="163.55" y2="425.70" stroke="#000" stroke-width="1.6"/>
<line x1="158.95" y1="494.60" x2="158.95" y2="498.00" stroke="#000" stroke-width="1.6"/>
<rect x="177.30" y="450.90" width="15.90" height="43.70" fill="#fff" stroke="#000" stroke-width="1.6"/>
<line x1="185.25" y1="450.90" x2="185.25" y2="445.30" stroke="#000" stroke-width="1.6"/>
<line x1="180.65" y1="445.30" x2="189.85" y2="445.30" stroke="#000" stroke-width="1.6"/>
<line x1="185.25" y1="494.60" x2="185.25" y2="498.00" stroke="#000" stroke-width="1.6"/>
<rect x="220.20" y="456.10" width="16.80" height="38.50" fill="#000" stroke="#000" stroke-width="1.6"/>
<line x1="228.60" y1="456.10" x2="228.60" y2="454.10" stroke="#000" stroke-width="1.6"/>
<line x1="224.00" y1="454.10" x2="233.20" y2="454.10" stroke="#000" stroke-width="1.6"/>
<line x1="228.60" y1="494.60" x2="228.60" y2="498.00" stroke="#000" stroke-width="1.6"/>
<rect x="246.50" y="429.00" width="16.80" height="65.60" fill="#000" stroke="#000" stroke-width="1.6"/>
<line x1="254.90" y1="429.00" x2="254.90" y2="426.10" stroke="#000" stroke-width="1.6"/>
<line x1="250.30" y1="426.10" x2="259.50" y2="426.10" stroke="#000" stroke-width="1.6"/>
<line x1="254.90" y1="494.60" x2="254.90" y2="498.00" stroke="#000" stroke-width="1.6"/>
<rect x="272.80" y="443.60" width="16.80" height="51.00" fill="#000" stroke="#000" stroke-width="1.6"/>
<line x1="281.20" y1="443.60" x2="281.20" y2="440.40" stroke="#000" stroke-width="1.6"/>
<line x1="276.60" y1="440.40" x2="285.80" y2="440.40" stroke="#000" stroke-width="1.6"/>
<line x1="281.20" y1="494.60" x2="281.20" y2="498.00" stroke="#000" stroke-width="1.6"/>
<rect x="299.00" y="445.00" width="16.80" height="49.60" fill="#000" stroke="#000" stroke-width="1.6"/>
<line x1="307.40" y1="445.00" x2="307.40" y2="438.60" stroke="#000" stroke-width="1.6"/>
<line x1="302.80" y1="438.60" x2="312.00" y2="438.60" stroke="#000" stroke-width="1.6"/>
<line x1="307.40" y1="494.60" x2="307.40" y2="498.00" stroke="#000" stroke-width="1.6"/>
<line x1="99.30" y1="387.60" x2="135.80" y2="387.60" stroke="#000" stroke-width="1.6"/>
<line x1="127.30" y1="384.70" x2="163.60" y2="384.70" stroke="#000" stroke-width="1.6"/>
<line x1="153.10" y1="417.60" x2="189.60" y2="417.60" stroke="#000" stroke-width="1.6"/>
<line x1="221.60" y1="419.80" x2="258.20" y2="419.80" stroke="#000" stroke-width="1.6"/>
<line x1="249.30" y1="416.60" x2="285.80" y2="416.60" stroke="#000" stroke-width="1.6"/>
<path d="M102.90,402.80L102.90,393.80M99.00,400.55L106.80,396.05M99.00,396.05L106.80,400.55" stroke="#000" stroke-width="1.7" fill="none"/>
<path d="M156.80,399.20L156.80,390.20M152.90,396.95L160.70,392.45M152.90,392.45L160.70,396.95" stroke="#000" stroke-width="1.7" fill="none"/>
<path d="M182.20,434.40L182.20,425.40M178.30,432.15L186.10,427.65M178.30,427.65L186.10,432.15" stroke="#000" stroke-width="1.7" fill="none"/>
<path d="M225.10,434.50L225.10,425.50M221.20,432.25L229.00,427.75M221.20,427.75L229.00,432.25" stroke="#000" stroke-width="1.7" fill="none"/>
<path d="M279.30,431.20L279.30,422.20M275.40,428.95L283.20,424.45M275.40,424.45L283.20,428.95" stroke="#000" stroke-width="1.7" fill="none"/>
<rect x="246.35" y="382.75" width="11.00" height="6.10" fill="#fff" stroke="#000" stroke-width="1.5"/>
<rect x="245.60" y="395.10" width="12.50" height="7.90" fill="#000"/>
<text x="269.20" y="389.70" font-size="13.9">CDC42</text>
<text x="268.32" y="403.40" font-size="13.9">TEAD1</text>
<text x="44.33" y="515.90" font-size="16.6">Ang II</text>
<text x="21.63" y="536.60" font-size="16.6">miR-133a</text>
<text x="40.06" y="554.90" font-size="16.6">Si-<tspan font-style="italic">Fto</tspan></text>
<path d="M105.00,510.30H109.60" stroke="#000" stroke-width="1.3" fill="none"/>
<path d="M130.85,509.60H138.15M134.50,505.95V513.25" stroke="#000" stroke-width="1.3" fill="none"/>
<path d="M155.75,509.60H163.05M159.40,505.95V513.25" stroke="#000" stroke-width="1.3" fill="none"/>
<path d="M180.55,509.60H187.85M184.20,505.95V513.25" stroke="#000" stroke-width="1.3" fill="none"/>
<path d="M105.00,530.00H109.60" stroke="#000" stroke-width="1.3" fill="none"/>
<path d="M130.30,530.00H134.90" stroke="#000" stroke-width="1.3" fill="none"/>
<path d="M155.75,530.60H163.05M159.40,526.95V534.25" stroke="#000" stroke-width="1.3" fill="none"/>
<path d="M180.55,530.60H187.85M184.20,526.95V534.25" stroke="#000" stroke-width="1.3" fill="none"/>
<path d="M105.00,550.50H109.60" stroke="#000" stroke-width="1.3" fill="none"/>
<path d="M130.70,550.00H135.30" stroke="#000" stroke-width="1.3" fill="none"/>
<path d="M154.80,551.10H159.40" stroke="#000" stroke-width="1.3" fill="none"/>
<path d="M180.55,552.50H187.85M184.20,548.85V556.15" stroke="#000" stroke-width="1.3" fill="none"/>
<path d="M227.60,508.00H232.20" stroke="#000" stroke-width="1.3" fill="none"/>
<path d="M253.05,507.30H260.35M256.70,503.65V510.95" stroke="#000" stroke-width="1.3" fill="none"/>
<path d="M278.05,507.30H285.35M281.70,503.65V510.95" stroke="#000" stroke-width="1.3" fill="none"/>
<path d="M302.85,507.30H310.15M306.50,503.65V510.95" stroke="#000" stroke-width="1.3" fill="none"/>
<path d="M227.60,527.50H232.20" stroke="#000" stroke-width="1.3" fill="none"/>
<path d="M252.20,527.50H256.80" stroke="#000" stroke-width="1.3" fill="none"/>
<path d="M278.05,528.00H285.35M281.70,524.35V531.65" stroke="#000" stroke-width="1.3" fill="none"/>
<path d="M302.85,528.00H310.15M306.50,524.35V531.65" stroke="#000" stroke-width="1.3" fill="none"/>
<path d="M227.60,548.30H232.20" stroke="#000" stroke-width="1.3" fill="none"/>
<path d="M252.90,548.30H257.50" stroke="#000" stroke-width="1.3" fill="none"/>
<path d="M277.10,548.60H281.70" stroke="#000" stroke-width="1.3" fill="none"/>
<path d="M302.85,550.20H310.15M306.50,546.55V553.85" stroke="#000" stroke-width="1.3" fill="none"/>
<line x1="417.50" y1="235.90" x2="417.50" y2="353.70" stroke="#000" stroke-width="1.6"/>
<line x1="412.50" y1="235.90" x2="418.30" y2="235.90" stroke="#000" stroke-width="1.6"/>
<text x="393.95" y="243.13" font-size="16.6">40</text>
<line x1="412.50" y1="265.15" x2="418.30" y2="265.15" stroke="#000" stroke-width="1.6"/>
<text x="393.95" y="272.38" font-size="16.6">30</text>
<line x1="412.50" y1="294.40" x2="418.30" y2="294.40" stroke="#000" stroke-width="1.6"/>
<text x="393.95" y="301.63" font-size="16.6">20</text>
<line x1="412.50" y1="323.65" x2="418.30" y2="323.65" stroke="#000" stroke-width="1.6"/>
<text x="393.95" y="330.88" font-size="16.6">10</text>
<line x1="412.50" y1="352.90" x2="418.30" y2="352.90" stroke="#000" stroke-width="1.6"/>
<text x="403.17" y="360.83" font-size="16.6">0</text>
<line x1="417.50" y1="352.90" x2="680.50" y2="352.90" stroke="#000" stroke-width="1.6"/>
<rect x="423.85" y="331.60" width="21.10" height="21.30" fill="#ed7d31" stroke="#000" stroke-width="1.5"/>
<rect x="456.25" y="338.20" width="21.10" height="14.70" fill="#0070c0" stroke="#000" stroke-width="1.5"/>
<rect x="489.15" y="290.50" width="21.10" height="62.40" fill="#ed7d31" stroke="#000" stroke-width="1.5"/>
<rect x="522.45" y="309.10" width="21.10" height="43.80" fill="#0070c0" stroke="#000" stroke-width="1.5"/>
<rect x="554.95" y="281.50" width="21.10" height="71.40" fill="#ed7d31" stroke="#000" stroke-width="1.5"/>
<rect x="588.15" y="315.30" width="21.10" height="37.60" fill="#0070c0" stroke="#000" stroke-width="1.5"/>
<rect x="620.95" y="316.30" width="21.10" height="36.60" fill="#ed7d31" stroke="#000" stroke-width="1.5"/>
<rect x="653.65" y="331.30" width="21.10" height="21.60" fill="#0070c0" stroke="#000" stroke-width="1.5"/>
<line x1="450.50" y1="352.90" x2="450.50" y2="356.50" stroke="#000" stroke-width="1.6"/>
<line x1="516.20" y1="352.90" x2="516.20" y2="356.50" stroke="#000" stroke-width="1.6"/>
<line x1="581.70" y1="352.90" x2="581.70" y2="356.50" stroke="#000" stroke-width="1.6"/>
<line x1="648.00" y1="352.90" x2="648.00" y2="356.50" stroke="#000" stroke-width="1.6"/>
<text x="442.31" y="373.60" font-size="16.6">2d</text>
<text x="506.71" y="373.60" font-size="16.6">4d</text>
<text x="571.16" y="373.60" font-size="16.6">7d</text>
<text x="634.85" y="373.60" font-size="16.6">21d</text>
<line x1="431.00" y1="375.90" x2="672.60" y2="375.90" stroke="#000" stroke-width="1.6"/>
<text x="496.75" y="393.60" font-size="16.6">Days post TAC</text>
<text transform="translate(367.40,338.88) rotate(-90)" font-size="16.6">Upregulated</text>
<text transform="translate(386.30,330.50) rotate(-90)" font-size="16.6">Genes (%)</text>
<rect x="425.10" y="241.70" width="8.60" height="9.60" fill="#f4b183" stroke="#000" stroke-width="1.2"/>
<text x="437.87" y="251.90" font-size="16.6">miR-133</text>
<rect x="511.50" y="241.80" width="8.20" height="9.60" fill="#0070c0" stroke="#000" stroke-width="1.2"/>
<text x="523.91" y="251.90" font-size="16.6">miR-499</text>
<line x1="417.30" y1="405.50" x2="417.30" y2="523.00" stroke="#000" stroke-width="1.6"/>
<line x1="412.30" y1="405.50" x2="418.10" y2="405.50" stroke="#000" stroke-width="1.6"/>
<text x="393.95" y="413.63" font-size="16.6">40</text>
<line x1="412.30" y1="434.68" x2="418.10" y2="434.68" stroke="#000" stroke-width="1.6"/>
<text x="393.95" y="442.80" font-size="16.6">30</text>
<line x1="412.30" y1="463.85" x2="418.10" y2="463.85" stroke="#000" stroke-width="1.6"/>
<text x="393.95" y="471.98" font-size="16.6">20</text>
<line x1="412.30" y1="493.03" x2="418.10" y2="493.03" stroke="#000" stroke-width="1.6"/>
<text x="393.95" y="501.15" font-size="16.6">10</text>
<line x1="412.30" y1="522.20" x2="418.10" y2="522.20" stroke="#000" stroke-width="1.6"/>
<text x="403.17" y="530.53" font-size="16.6">0</text>
<line x1="417.30" y1="522.20" x2="680.50" y2="522.20" stroke="#000" stroke-width="1.6"/>
<rect x="424.25" y="504.10" width="21.10" height="18.10" fill="#000" stroke="#000" stroke-width="1.5"/>
<rect x="457.15" y="505.60" width="21.10" height="16.60" fill="#fff" stroke="#000" stroke-width="1.5"/>
<rect x="489.15" y="442.70" width="21.10" height="79.50" fill="#000" stroke="#000" stroke-width="1.5"/>
<rect x="522.15" y="467.60" width="21.10" height="54.60" fill="#fff" stroke="#000" stroke-width="1.5"/>
<rect x="555.15" y="431.40" width="21.10" height="90.80" fill="#000" stroke="#000" stroke-width="1.5"/>
<rect x="588.05" y="459.20" width="21.10" height="63.00" fill="#fff" stroke="#000" stroke-width="1.5"/>
<rect x="620.75" y="469.70" width="21.10" height="52.50" fill="#000" stroke="#000" stroke-width="1.5"/>
<rect x="653.95" y="492.20" width="21.10" height="30.00" fill="#fff" stroke="#000" stroke-width="1.5"/>
<line x1="450.40" y1="522.20" x2="450.40" y2="525.80" stroke="#000" stroke-width="1.6"/>
<line x1="516.30" y1="522.20" x2="516.30" y2="525.80" stroke="#000" stroke-width="1.6"/>
<line x1="581.90" y1="522.20" x2="581.90" y2="525.80" stroke="#000" stroke-width="1.6"/>
<line x1="647.80" y1="522.20" x2="647.80" y2="525.80" stroke="#000" stroke-width="1.6"/>
<text x="442.31" y="544.40" font-size="16.6">2d</text>
<text x="506.71" y="544.40" font-size="16.6">4d</text>
<text x="571.16" y="544.40" font-size="16.6">7d</text>
<text x="634.85" y="544.40" font-size="16.6">21d</text>
<line x1="431.00" y1="548.30" x2="672.60" y2="548.30" stroke="#000" stroke-width="1.6"/>
<text x="496.75" y="566.90" font-size="16.6">Days post TAC</text>
<text transform="translate(368.40,503.23) rotate(-90)" font-size="16.6">Upregulated</text>
<text transform="translate(387.30,497.32) rotate(-90)" font-size="16.6">Genes  (%)</text>
<rect x="425.30" y="410.50" width="9.50" height="10.40" fill="#000"/>
<text x="437.75" y="421.20" font-size="16.6">m6A</text>
<rect x="476.15" y="412.20" width="8.30" height="8.50" fill="#fff" stroke="#000" stroke-width="1.3"/>
<text x="487.32" y="421.20" font-size="16.6">Non m6A</text></svg></body></html>
